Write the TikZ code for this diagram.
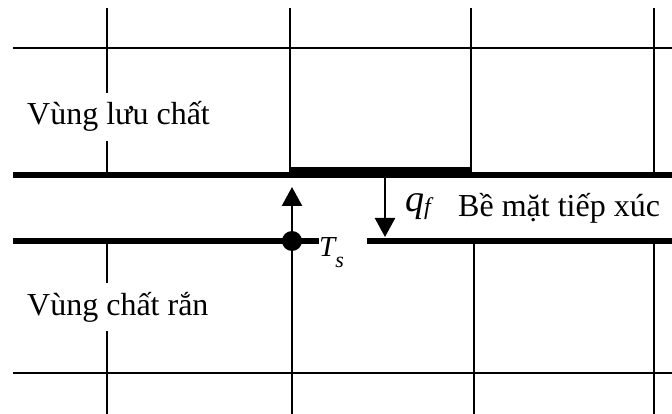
\documentclass[tikz,border=0pt]{standalone}
\usepackage{fontspec}
\setmainfont{Liberation Serif}
\usetikzlibrary{arrows.meta}

\begin{document}
\begin{tikzpicture}[x=1pt, y=-1pt,
    gridline/.style={draw=black, line width=1.6pt},
    wall/.style={draw=black, line width=5.5pt},
    zonelabel/.style={fill=white, anchor=base west, inner xsep=2pt, inner ysep=9pt,
        font=\fontsize{32}{36}\selectfont},
    facelabel/.style={anchor=base west, inner sep=0pt, font=\fontsize{32}{36}\selectfont},
    flux/.style={line width=2.4pt, -{Triangle[length=19pt,width=20pt]}}]

    % Picture frame (672 x 414 px)
    \useasboundingbox (0,0) rectangle (672,414);

    % Fluid zone grid
    \draw[gridline] (13,48) -- (672,48);
    \foreach \x in {107,290,471,654}
        \draw[gridline] (\x,8) -- (\x,174);

    % Solid zone grid
    \draw[gridline] (13,373) -- (672,373);
    \foreach \x in {107,292,474,654}
        \draw[gridline] (\x,241) -- (\x,414);

    % Fluid side face, thicker over the interface cell
    \draw[wall] (13,175) -- (672,175);
    \fill (290,167) rectangle (471,177.5);

    % Solid side face, broken round the temperature label
    \node[circle, fill=black, inner sep=0pt, minimum size=20pt] (ts) at (292,241) {};
    \node[facelabel, font=\fontsize{29}{32}\selectfont] (tslabel) at (319,257)
        {\itshape T\fontsize{22}{24}\selectfont\raisebox{-10pt}{s}};
    \coordinate (gapend) at (367,241);
    \draw[wall] (13,241) -- (tslabel.west |- ts);
    \draw[wall] (gapend) -- (672,241);

    % Zone labels
    \node[zonelabel] (fluid) at (25,125) {Vùng lưu chất};
    \node[zonelabel] (solid) at (25,315) {Vùng chất rắn};

    % Heat flux and interface label
    \coordinate (upend) at (292,187);
    \coordinate (fluxtop) at (385,177);
    \coordinate (fluxend) at (385,237);
    \draw[flux] (ts) -- (upend);
    \draw[flux] (fluxtop) -- (fluxend);
    \node[facelabel, font=\fontsize{38}{42}\selectfont] (qf) at (405,212)
        {\itshape q\fontsize{24}{26}\selectfont\raisebox{-2pt}{f}};
    \node[facelabel] (face) at (458,217) {Bề mặt tiếp xúc};
\end{tikzpicture}
\end{document}
